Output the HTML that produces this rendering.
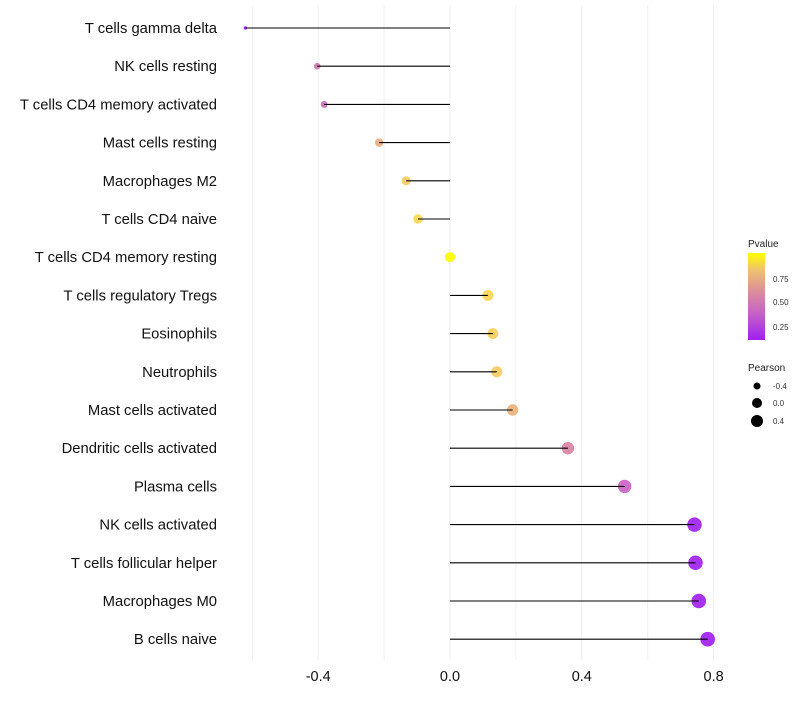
<!DOCTYPE html>
<html><head><meta charset="utf-8"><style>
body{margin:0;background:#fff;}
svg text{font-family:"Liberation Sans",sans-serif;}
</style></head><body>
<svg id="chart" width="800" height="700">
<defs><linearGradient id="pg" x1="0" y1="1" x2="0" y2="0">
<stop offset="0" stop-color="#a020f0"/><stop offset="0.3" stop-color="#c660c8"/><stop offset="0.55" stop-color="#dc8c9c"/><stop offset="0.8" stop-color="#efc070"/><stop offset="1" stop-color="#ffff00"/></linearGradient></defs>
<g id="grid"></g>
<g id="marks"></g>
<g id="labels"></g>
<g id="xticks"></g>
<g>
<text x="748" y="247" font-size="10" fill="#222">Pvalue</text>
<rect x="748" y="253" width="17" height="87" fill="url(#pg)"/>
<text x="773" y="282" font-size="8" fill="#333">0.75</text>
<text x="773" y="305" font-size="8" fill="#333">0.50</text>
<text x="773" y="330" font-size="8" fill="#333">0.25</text>
</g>
<g>
<text x="748" y="371" font-size="10" fill="#222">Pearson</text>
<circle cx="757" cy="386" r="3.5" fill="#000"/><text x="773" y="389" font-size="8" fill="#333">-0.4</text>
<circle cx="757" cy="403" r="5" fill="#000"/><text x="773" y="406" font-size="8" fill="#333">0.0</text>
<circle cx="757" cy="421" r="6" fill="#000"/><text x="773" y="424" font-size="8" fill="#333">0.4</text>
</g>
</svg>
<script>
const cells=["T cells gamma delta","NK cells resting","T cells CD4 memory activated","Mast cells resting","Macrophages M2","T cells CD4 naive","T cells CD4 memory resting","T cells regulatory  Tregs ","Eosinophils","Neutrophils","Mast cells activated","Dendritic cells activated","Plasma cells","NK cells activated","T cells follicular helper","Macrophages M0","B cells naive"];
const pearson=[-0.621,-0.403,-0.382,-0.215,-0.133,-0.097,0.0,0.115,0.13,0.142,0.19,0.358,0.53,0.742,0.745,0.755,0.782];
const pvalue=[0.02,0.42,0.38,0.68,0.82,0.9,1.0,0.88,0.85,0.83,0.7,0.5,0.32,0.01,0.01,0.01,0.005];
const xTicks=[-0.4,0.0,0.4,0.8];
const xTickLabels=["-0.4","0.0","0.4","0.8"];
const xGrid=[-0.6,-0.4,-0.2,0,0.2,0.4,0.6,0.8];
const NS="http://www.w3.org/2000/svg";
const xs=v=>450+v*329.5;
const ys=i=>28+i*38.2;
const rs=v=>Math.sqrt(3+(v+0.621)/1.403*51);
function lerp(a,b,t){return a+(b-a)*t;}
const stops=[[0,[160,32,240]],[0.3,[198,96,200]],[0.55,[220,140,156]],[0.75,[240,190,112]],[0.9,[248,216,80]],[1,[255,255,0]]];
function col(p){for(let k=1;k<stops.length;k++){if(p<=stops[k][0]){const t=(p-stops[k-1][0])/(stops[k][0]-stops[k-1][0]);const a=stops[k-1][1],b=stops[k][1];return `rgb(${Math.round(lerp(a[0],b[0],t))},${Math.round(lerp(a[1],b[1],t))},${Math.round(lerp(a[2],b[2],t))})`;}}return "rgb(255,255,0)";}
function mk(tag,attrs,parent){const e=document.createElementNS(NS,tag);for(const k in attrs)e.setAttribute(k,attrs[k]);parent.appendChild(e);return e;}
const g=document.getElementById('grid'),m=document.getElementById('marks'),lb=document.getElementById('labels'),xt=document.getElementById('xticks');
xGrid.forEach(v=>{const l=mk('line',{x1:xs(v),x2:xs(v),y1:5,y2:660,stroke:'#f0f0f0','stroke-width':1},g);

});
cells.forEach((c,i)=>{
const pt=mk('circle',{cx:xs(pearson[i]),cy:ys(i),r:rs(pearson[i]),fill:col(pvalue[i]),'fill-opacity':0.92},m);


const ln=mk('line',{x1:xs(0),x2:xs(pearson[i]),y1:ys(i),y2:ys(i),stroke:'#000','stroke-width':1.1},m);


const t=mk('text',{x:217,y:ys(i)+5,'text-anchor':'end','font-size':14.8,fill:'#111'},lb);
t.textContent=c;


});
xTicks.forEach((v,i)=>{const t=mk('text',{x:xs(v),y:681,'text-anchor':'middle','font-size':14.5,fill:'#111'},xt);
t.textContent=xTickLabels[i];

});
</script>
</body></html>
